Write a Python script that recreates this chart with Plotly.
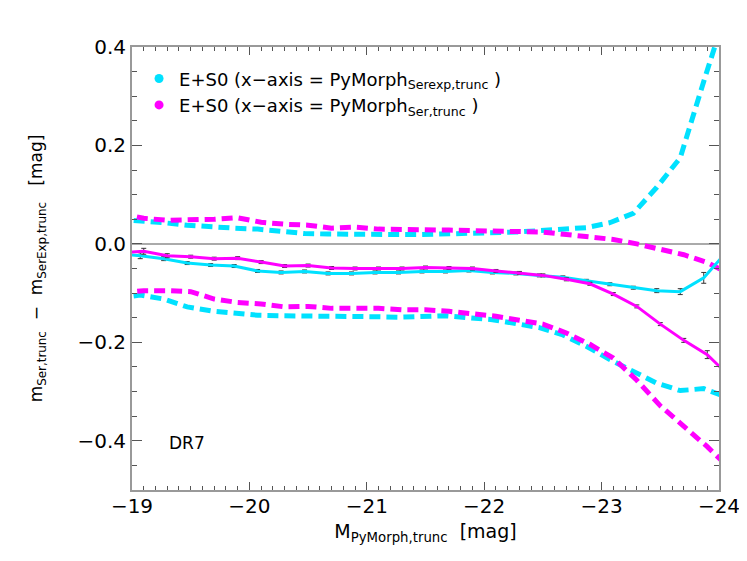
import plotly.graph_objects as go

# bin centres (mag); one extra bin on each side is clipped by the axis range
x_cyan = [-18.87, -19.07, -19.27, -19.47, -19.67, -19.87, -20.07, -20.27, -20.47, -20.67,
          -20.87, -21.07, -21.27, -21.47, -21.67, -21.87, -22.07, -22.27, -22.47, -22.67,
          -22.87, -23.07, -23.27, -23.47, -23.67, -23.87, -24.07]
x_mag = [-18.9, -19.1, -19.3, -19.5, -19.7, -19.9, -20.1, -20.3, -20.5, -20.7,
         -20.9, -21.1, -21.3, -21.5, -21.7, -21.9, -22.1, -22.3, -22.5, -22.7,
         -22.9, -23.1, -23.3, -23.5, -23.7, -23.9, -24.1]

# E+S0, x-axis = PyMorph Serexp,trunc
med_cyan = [-0.020, -0.024, -0.030, -0.039, -0.043, -0.045, -0.055, -0.058, -0.056, -0.060,
            -0.060, -0.058, -0.058, -0.056, -0.056, -0.054, -0.058, -0.060, -0.064, -0.068,
            -0.075, -0.082, -0.089, -0.095, -0.097, -0.069, -0.015]
err_cyan = [0.006, 0.006, 0.004, 0.003, 0.003, 0.003, 0.003, 0.003, 0.003, 0.003,
            0.003, 0.003, 0.003, 0.003, 0.003, 0.003, 0.003, 0.003, 0.003, 0.003,
            0.003, 0.003, 0.003, 0.004, 0.006, 0.011, 0.015]
hi_cyan = [0.050, 0.047, 0.043, 0.038, 0.034, 0.032, 0.030, 0.025, 0.021, 0.020,
           0.019, 0.019, 0.019, 0.019, 0.020, 0.021, 0.022, 0.024, 0.027, 0.030,
           0.033, 0.043, 0.062, 0.115, 0.175, 0.330, 0.480]
lo_cyan = [-0.110, -0.104, -0.112, -0.128, -0.136, -0.141, -0.145, -0.146, -0.146, -0.146,
           -0.147, -0.148, -0.149, -0.147, -0.146, -0.150, -0.154, -0.162, -0.170, -0.185,
           -0.208, -0.235, -0.259, -0.283, -0.298, -0.294, -0.312]

# E+S0, x-axis = PyMorph Ser,trunc
med_mag = [-0.018, -0.015, -0.024, -0.026, -0.030, -0.029, -0.037, -0.045, -0.044, -0.049,
           -0.050, -0.050, -0.050, -0.048, -0.049, -0.050, -0.055, -0.059, -0.064, -0.072,
           -0.081, -0.102, -0.127, -0.163, -0.196, -0.225, -0.271]
err_mag = [0.006, 0.006, 0.004, 0.003, 0.003, 0.003, 0.003, 0.003, 0.003, 0.003,
           0.003, 0.003, 0.003, 0.003, 0.003, 0.003, 0.003, 0.003, 0.003, 0.003,
           0.003, 0.003, 0.003, 0.003, 0.004, 0.008, 0.010]
hi_mag = [0.062, 0.052, 0.048, 0.048, 0.050, 0.053, 0.044, 0.040, 0.038, 0.032,
          0.034, 0.030, 0.030, 0.028, 0.028, 0.027, 0.026, 0.026, 0.024, 0.019,
          0.013, 0.009, 0.000, -0.010, -0.022, -0.038, -0.062]
lo_mag = [-0.100, -0.095, -0.095, -0.097, -0.112, -0.119, -0.122, -0.128, -0.127, -0.131,
          -0.131, -0.131, -0.134, -0.134, -0.137, -0.141, -0.147, -0.155, -0.163, -0.181,
          -0.204, -0.232, -0.277, -0.329, -0.370, -0.412, -0.458]

CYAN = "#00e1ff"
MAGENTA = "#ff00ff"
FONT = "DejaVu Sans, Verdana, sans-serif"

fig = go.Figure()

# dashed spread lines
for xs, ys, col in [(x_cyan, hi_cyan, CYAN), (x_cyan, lo_cyan, CYAN),
                    (x_mag, hi_mag, MAGENTA), (x_mag, lo_mag, MAGENTA)]:
    fig.add_trace(go.Scatter(x=xs, y=ys, mode="lines", showlegend=False, hoverinfo="skip",
                             line=dict(color=col, width=5, dash="11px,6px")))

# medians with error bars
for xs, ys, es, col in [(x_cyan, med_cyan, err_cyan, CYAN), (x_mag, med_mag, err_mag, MAGENTA)]:
    fig.add_trace(go.Scatter(x=xs, y=ys, mode="lines", showlegend=False,
                             line=dict(color=col, width=3),
                             error_y=dict(type="data", array=es, color="#333333",
                                          thickness=1, width=2.5)))

# legend entries (dots only)
fig.add_trace(go.Scatter(x=[None], y=[None], mode="markers", marker=dict(color=CYAN, size=9),
                         name="E+S0 (x\u2212axis = PyMorph<sub>Serexp,trunc</sub> )"))
fig.add_trace(go.Scatter(x=[None], y=[None], mode="markers", marker=dict(color=MAGENTA, size=9),
                         name="E+S0 (x\u2212axis = PyMorph<sub>Ser,trunc</sub> )"))

fig.add_annotation(text="DR7", x=-19.47, y=-0.405, xref="x", yref="y", showarrow=False,
                   font=dict(size=17, color="black", family=FONT))

fig.update_layout(
    width=747, height=561,
    margin=dict(l=124, r=36, t=39, b=79),
    plot_bgcolor="white", paper_bgcolor="white",
    font=dict(family=FONT, color="black"),
    showlegend=True,
    legend=dict(x=0.012, y=0.97, xanchor="left", yanchor="top", bgcolor="rgba(0,0,0,0)",
                font=dict(size=18, family=FONT), itemwidth=30, tracegroupgap=0),
)

fig.update_xaxes(
    range=[-19, -24], tickvals=[-19, -20, -21, -22, -23, -24],
    ticks="inside", ticklen=8, tickcolor="#555555", tickwidth=1,
    minor=dict(dtick=0.1, ticks="inside", ticklen=4, tickcolor="#555555"),
    showline=True, linecolor="#999999", linewidth=2, mirror="ticks",
    showgrid=False, zeroline=False, ticklabelstandoff=-3,
    tickfont=dict(size=20, family=FONT),
    title=dict(text="M<sub>PyMorph,trunc</sub>  [mag]", font=dict(size=19, family=FONT), standoff=8),
)
fig.update_yaxes(
    range=[-0.5, 0.4], tickvals=[-0.4, -0.2, 0.0, 0.2, 0.4], tickformat=".1f",
    ticks="inside", ticklen=10, tickcolor="#555555", tickwidth=1,
    minor=dict(dtick=0.05, ticks="inside", ticklen=5, tickcolor="#555555"),
    showline=True, linecolor="#999999", linewidth=2, mirror="ticks",
    showgrid=False, zeroline=True, zerolinecolor="#aaaaaa", zerolinewidth=2,
    tickfont=dict(size=20, family=FONT),
    title=dict(text="m<sub>Ser,trunc</sub>  \u2212  m<sub>SerExp,trunc</sub>   [mag]",
               font=dict(size=17, family=FONT), standoff=30),
)

fig.write_html("out.html")
